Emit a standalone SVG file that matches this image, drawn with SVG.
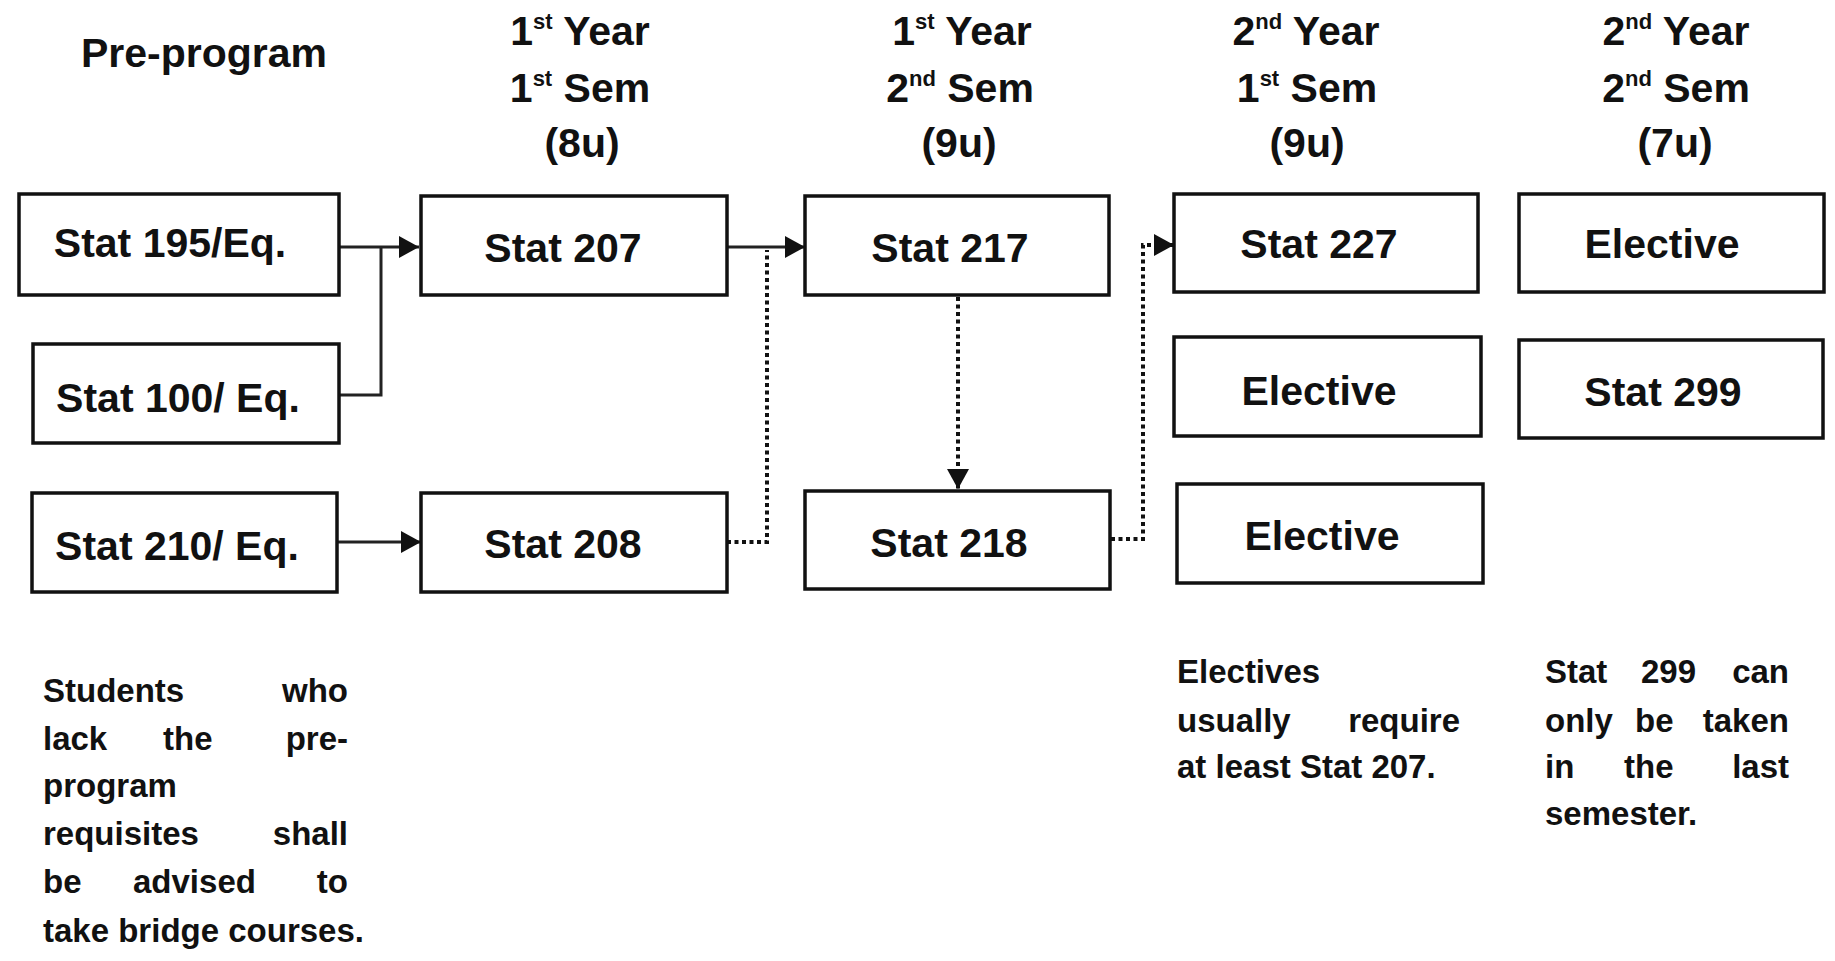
<svg xmlns="http://www.w3.org/2000/svg" width="1835" height="961" viewBox="0 0 1835 961">
<style>
  .box{fill:#fff;stroke:#111;stroke-width:3.5}
  .lbl{font-family:"Liberation Sans",Arial,sans-serif;font-weight:bold;font-size:41px;fill:#111;text-anchor:middle}
  .hdr{font-family:"Liberation Sans",Arial,sans-serif;font-weight:bold;font-size:41px;fill:#111;text-anchor:middle}
  .sup{font-size:22px}
  .note{font-family:"Liberation Sans",Arial,sans-serif;font-weight:bold;font-size:33px;fill:#111}
  .solid{fill:none;stroke:#222;stroke-width:3}
  .dot{fill:none;stroke:#111;stroke-width:4;stroke-dasharray:4 3.5}
</style>
<defs>
  <marker id="arr" markerUnits="userSpaceOnUse" markerWidth="22" markerHeight="22" refX="20" refY="11" orient="auto">
    <path d="M0,0 L20,11 L0,22 z" fill="#111"/>
  </marker>
</defs>

<g id="headers">
  <text class="hdr" x="204" y="67">Pre-program</text>
  <text class="hdr" x="580" y="45">1<tspan class="sup" dy="-16">st</tspan><tspan dy="16"> Year</tspan></text>
  <text class="hdr" x="580" y="102">1<tspan class="sup" dy="-16">st</tspan><tspan dy="16"> Sem</tspan></text>
  <text class="hdr" x="582" y="157">(8u)</text>
  <text class="hdr" x="962" y="45">1<tspan class="sup" dy="-16">st</tspan><tspan dy="16"> Year</tspan></text>
  <text class="hdr" x="960" y="102">2<tspan class="sup" dy="-16">nd</tspan><tspan dy="16"> Sem</tspan></text>
  <text class="hdr" x="959" y="157">(9u)</text>
  <text class="hdr" x="1306" y="45">2<tspan class="sup" dy="-16">nd</tspan><tspan dy="16"> Year</tspan></text>
  <text class="hdr" x="1307" y="102">1<tspan class="sup" dy="-16">st</tspan><tspan dy="16"> Sem</tspan></text>
  <text class="hdr" x="1307" y="157">(9u)</text>
  <text class="hdr" x="1676" y="45">2<tspan class="sup" dy="-16">nd</tspan><tspan dy="16"> Year</tspan></text>
  <text class="hdr" x="1676" y="102">2<tspan class="sup" dy="-16">nd</tspan><tspan dy="16"> Sem</tspan></text>
  <text class="hdr" x="1675" y="157">(7u)</text>
</g>

<g id="connectors">
  <polyline class="solid" points="339,247 419,247" marker-end="url(#arr)"/>
  <polyline class="solid" points="339,395 381,395 381,247"/>
  <polyline class="solid" points="338,542 421,542" marker-end="url(#arr)"/>
  <polyline class="solid" points="727,247 805,247" marker-end="url(#arr)"/>
  <polyline class="dot" points="727,542 767,542 767,250"/>
  <polyline class="dot" points="958,297 958,489" marker-end="url(#arr)"/>
  <polyline class="dot" points="1111,539 1143,539 1143,245 1174,245" marker-end="url(#arr)"/>
</g>

<g id="n195"><rect class="box" x="19" y="194" width="320" height="101"/><text class="lbl" x="170" y="257">Stat 195/Eq.</text></g>
<g id="n100"><rect class="box" x="33" y="344" width="306" height="99"/><text class="lbl" x="178" y="412">Stat 100/ Eq.</text></g>
<g id="n210"><rect class="box" x="32" y="493" width="305" height="99"/><text class="lbl" x="177" y="560">Stat 210/ Eq.</text></g>
<g id="n207"><rect class="box" x="421" y="196" width="306" height="99"/><text class="lbl" x="563" y="262">Stat 207</text></g>
<g id="n208"><rect class="box" x="421" y="493" width="306" height="99"/><text class="lbl" x="563" y="558">Stat 208</text></g>
<g id="n217"><rect class="box" x="805" y="196" width="304" height="99"/><text class="lbl" x="950" y="262">Stat 217</text></g>
<g id="n218"><rect class="box" x="805" y="491" width="305" height="98"/><text class="lbl" x="949" y="557">Stat 218</text></g>
<g id="n227"><rect class="box" x="1174" y="194" width="304" height="98"/><text class="lbl" x="1319" y="258">Stat 227</text></g>
<g id="elective1"><rect class="box" x="1174" y="337" width="307" height="99"/><text class="lbl" x="1319" y="405">Elective</text></g>
<g id="elective2"><rect class="box" x="1177" y="484" width="306" height="99"/><text class="lbl" x="1322" y="550">Elective</text></g>
<g id="elective3"><rect class="box" x="1519" y="194" width="305" height="98"/><text class="lbl" x="1662" y="258">Elective</text></g>
<g id="n299"><rect class="box" x="1519" y="340" width="304" height="98"/><text class="lbl" x="1663" y="406">Stat 299</text></g>

<g id="notes">
  <text class="note" x="43" y="702">Students</text>
  <text class="note" x="348" y="702" text-anchor="end">who</text>
  <text class="note" x="43" y="750">lack</text>
  <text class="note" x="163" y="750">the</text>
  <text class="note" x="348" y="750" text-anchor="end">pre-</text>
  <text class="note" x="43" y="797">program</text>
  <text class="note" x="43" y="845">requisites</text>
  <text class="note" x="348" y="845" text-anchor="end">shall</text>
  <text class="note" x="43" y="893">be</text>
  <text class="note" x="133" y="893">advised</text>
  <text class="note" x="348" y="893" text-anchor="end">to</text>
  <text class="note" x="43" y="942">take bridge courses.</text>

  <text class="note" x="1177" y="683">Electives</text>
  <text class="note" x="1177" y="732">usually</text>
  <text class="note" x="1460" y="732" text-anchor="end">require</text>
  <text class="note" x="1177" y="778">at least Stat 207.</text>

  <text class="note" x="1545" y="683">Stat</text>
  <text class="note" x="1641" y="683">299</text>
  <text class="note" x="1789" y="683" text-anchor="end">can</text>
  <text class="note" x="1545" y="732">only</text>
  <text class="note" x="1635" y="732">be</text>
  <text class="note" x="1789" y="732" text-anchor="end">taken</text>
  <text class="note" x="1545" y="778">in</text>
  <text class="note" x="1624" y="778">the</text>
  <text class="note" x="1789" y="778" text-anchor="end">last</text>
  <text class="note" x="1545" y="825">semester.</text>
</g>
</svg>
